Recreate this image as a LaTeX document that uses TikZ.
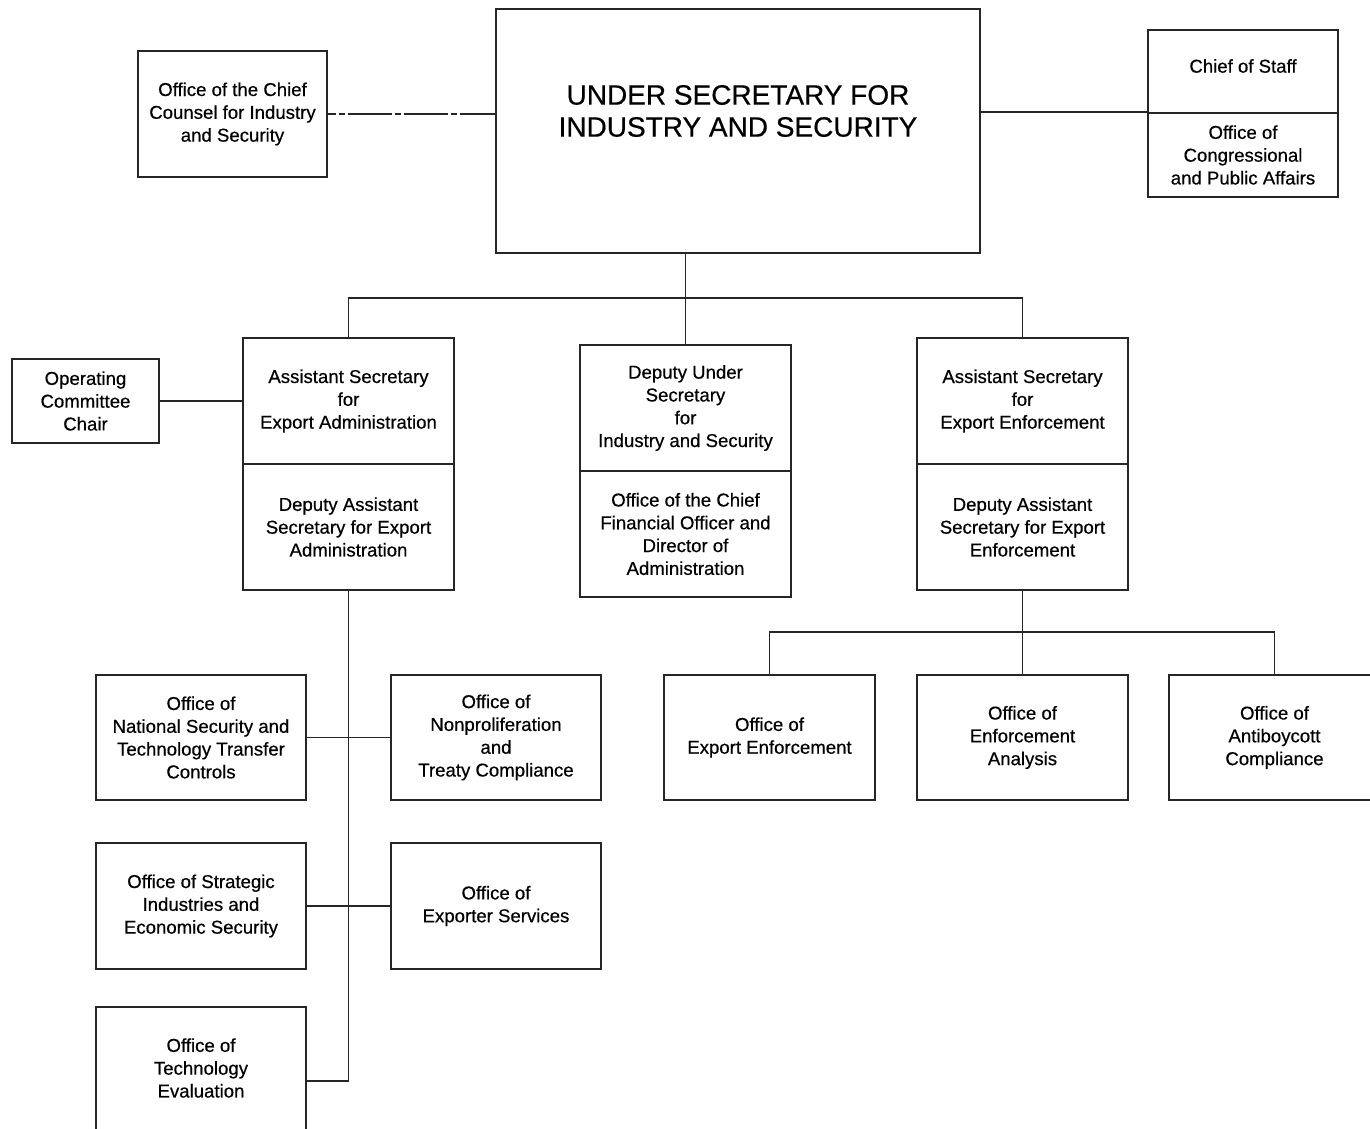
\documentclass[tikz,border=0pt]{standalone}
\usepackage{fontspec}
\setmainfont{Liberation Sans}
\newfontface\heavy{Liberation Sans}[FakeBold=0.5]
\begin{document}
\begin{tikzpicture}[x=1pt,y=-1pt,
  box/.style={draw=black!85, line width=1.8pt, inner sep=0pt, align=center,
    font=\heavy\fontsize{18.6}{22.8}\selectfont},
  txt/.style={inner sep=0pt, align=center, font=\heavy\fontsize{18.6}{22.8}\selectfont},
  conn/.style={draw=black!85, line width=1.8pt},
  dashconn/.style={draw=black!85, line width=1.8pt, dash pattern=on 44pt off 3pt on 6pt off 3pt, dash phase=36pt}]
\useasboundingbox (0,0) rectangle (1370,1129);
\clip (0,0) rectangle (1370,1129);
\fill[white] (0,0) rectangle (1370,1129);

% top row
\node[box, minimum width=484, minimum height=244] (us) at (738,131) {};
\node[txt, font=\heavy\fontsize{28}{32}\selectfont] (ust) at (738,111) {UNDER SECRETARY FOR\\INDUSTRY AND SECURITY};
\node[box, minimum width=189, minimum height=126] (cc) at (232.5,114) {Office of the Chief\\Counsel for Industry\\and Security};
\node[box, minimum width=190, minimum height=83] (cos) at (1243,71.5) {};
\node[txt] (cost) at (1243,66) {Chief of Staff};
\node[box, minimum width=190, minimum height=84] (cosb) at (1243,155) {Office of\\Congressional\\and Public Affairs};

% second row
\node[box, minimum width=147, minimum height=84] (op) at (85.5,401) {Operating\\Committee\\Chair};
\node[box, minimum width=211, minimum height=126] (asa) at (348.5,401) {Assistant Secretary\\for\\Export Administration};
\node[box, minimum width=211, minimum height=126] (asab) at (348.5,527) {Deputy Assistant\\Secretary for Export\\Administration};
\node[box, minimum width=211, minimum height=126] (dus) at (685.5,408) {Deputy Under\\Secretary\\for\\Industry and Security};
\node[box, minimum width=211, minimum height=126] (dusb) at (685.5,534) {Office of the Chief\\Financial Officer and\\Director of\\Administration};
\node[box, minimum width=211, minimum height=126] (ase) at (1022.5,401) {Assistant Secretary\\for\\Export Enforcement};
\node[box, minimum width=211, minimum height=126] (aseb) at (1022.5,527) {Deputy Assistant\\Secretary for Export\\Enforcement};

% third row
\node[box, minimum width=210, minimum height=125] (ns) at (201,737.5) {Office of\\National Security and\\Technology Transfer\\Controls};
\node[box, minimum width=210, minimum height=125] (np) at (496,737.5) {Office of\\Nonproliferation\\and\\Treaty Compliance};
\node[box, minimum width=211, minimum height=125] (oee) at (769.5,737.5) {Office of\\Export Enforcement};
\node[box, minimum width=211, minimum height=125] (ea) at (1022.5,737.5) {Office of\\Enforcement\\Analysis};
\node[box, minimum width=211, minimum height=125] (ab) at (1274.5,737.5) {Office of\\Antiboycott\\Compliance};

\node[box, minimum width=210, minimum height=126] (si) at (201,906) {Office of Strategic\\Industries and\\Economic Security};
\node[box, minimum width=210, minimum height=126] (es) at (496,906) {Office of\\Exporter Services};

\node[box, minimum width=210, minimum height=148] (te) at (201,1081) {};
\node[txt] (tet) at (201,1068) {Office of\\Technology\\Evaluation};

% connectors
\draw[dashconn] (cc.east) -- (cc.east -| us.west);
\draw[conn] (cosb.north west) -- (cosb.north west -| us.east);
\draw[conn] (us.south -| dus.north) -- (dus.north);
\coordinate (j1) at (685.5,298);
\draw[conn] (asa.north) -- (asa.north |- j1) -- (ase.north |- j1) -- (ase.north);
\draw[conn] (op.east) -- (asa.west);
\draw[conn] (asab.south) -- (asab.south |- te.east) -- (te.east);
\draw[conn] (ns.east) -- (np.west);
\draw[conn] (si.east) -- (es.west);
\coordinate (j2) at (1022.5,632);
\draw[conn] (aseb.south) -- (ea.north);
\draw[conn] (oee.north) -- (oee.north |- j2) -- (ab.north |- j2) -- (ab.north);
\end{tikzpicture}
\end{document}
